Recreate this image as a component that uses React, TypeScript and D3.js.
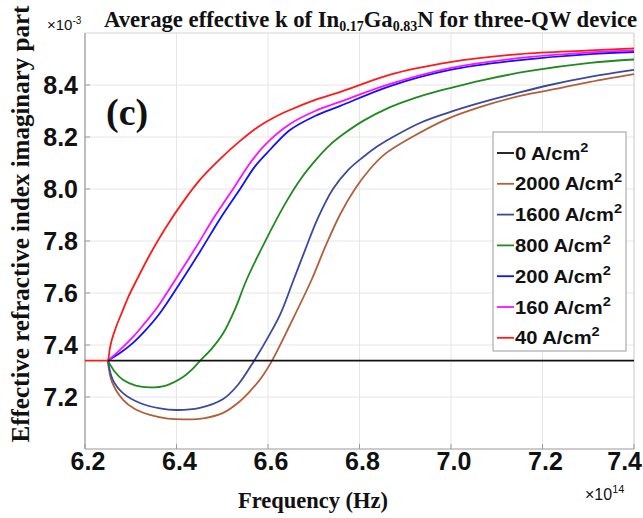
import React from "react";
import * as d3 from "d3";

const W = 643, H = 518;
const M = { left: 85, right: 634, top: 33, bottom: 449 };

const xTicks = [6.2, 6.4, 6.6, 6.8, 7.0, 7.2, 7.4];
const yTicks = [7.2, 7.4, 7.6, 7.8, 8.0, 8.2, 8.4];

const seriesNames = ["0 A/cm", "2000 A/cm", "1600 A/cm", "800 A/cm", "200 A/cm", "160 A/cm", "40 A/cm"];
const seriesColors = ["#111111", "#b0603a", "#3a4a9c", "#1f8a1f", "#1010ff", "#ff10ff", "#ff1a1a"];

const black0: [number, number][] = [[6.25, 7.34], [7.4, 7.34]];

const brown2000: [number, number][] = [
  [6.25, 7.34], [6.259, 7.258], [6.2837, 7.188], [6.309, 7.154], [6.342, 7.131], [6.381, 7.117],
  [6.422, 7.114], [6.462, 7.119], [6.502, 7.139], [6.534, 7.177], [6.561, 7.223], [6.585, 7.273],
  [6.608, 7.337], [6.648, 7.477], [6.695, 7.65], [6.725, 7.777], [6.757, 7.9], [6.79, 8.0],
  [6.823, 8.077], [6.856, 8.135], [6.915, 8.2], [6.991, 8.269], [7.063, 8.315], [7.151, 8.358],
  [7.238, 8.388], [7.304, 8.412], [7.4, 8.442],
];

const navy1600: [number, number][] = [
  [6.25, 7.34], [6.261, 7.265], [6.2837, 7.214], [6.32, 7.177], [6.364, 7.156], [6.4, 7.15],
  [6.451, 7.158], [6.502, 7.192], [6.534, 7.246], [6.568, 7.335], [6.604, 7.442], [6.628, 7.523],
  [6.655, 7.646], [6.681, 7.765], [6.709, 7.888], [6.742, 8.0], [6.775, 8.073], [6.808, 8.123],
  [6.84, 8.165], [6.873, 8.2], [6.932, 8.254], [6.991, 8.292], [7.063, 8.331], [7.136, 8.365],
  [7.216, 8.4], [7.304, 8.431], [7.4, 8.458],
];

const green800: [number, number][] = [
  [6.25, 7.34], [6.2656, 7.296], [6.2837, 7.265], [6.311, 7.244], [6.342, 7.237], [6.377, 7.244],
  [6.415, 7.278], [6.434, 7.306], [6.451, 7.338], [6.478, 7.388], [6.502, 7.445], [6.528, 7.538],
  [6.553, 7.65], [6.593, 7.796], [6.637, 7.942], [6.67, 8.035], [6.706, 8.115], [6.735, 8.169],
  [6.768, 8.215], [6.808, 8.262], [6.867, 8.315], [6.917, 8.348], [6.998, 8.388], [7.07, 8.419],
  [7.173, 8.454], [7.304, 8.485], [7.4, 8.498],
];

const blue200: [number, number][] = [
  [6.25, 7.34], [6.2765, 7.369], [6.305, 7.408], [6.331, 7.454], [6.364, 7.523], [6.412, 7.65],
  [6.451, 7.758], [6.495, 7.885], [6.539, 8.0], [6.572, 8.088], [6.604, 8.15], [6.648, 8.227],
  [6.703, 8.281], [6.757, 8.319], [6.867, 8.396], [6.998, 8.458], [7.151, 8.496], [7.304, 8.519],
  [7.4, 8.527],
];

const magenta160: [number, number][] = [
  [6.25, 7.34], [6.2765, 7.381], [6.305, 7.431], [6.331, 7.485], [6.357, 7.542], [6.397, 7.65],
  [6.44, 7.769], [6.484, 7.896], [6.528, 8.012], [6.561, 8.1], [6.593, 8.169], [6.648, 8.25],
  [6.703, 8.3], [6.757, 8.335], [6.867, 8.404], [6.998, 8.465], [7.151, 8.504], [7.304, 8.525],
  [7.4, 8.533],
];

const red40: [number, number][] = [
  [6.2, 7.34], [6.25, 7.34], [6.2546, 7.39], [6.2656, 7.458], [6.28, 7.522], [6.295, 7.586],
  [6.313, 7.65], [6.342, 7.748], [6.375, 7.847], [6.419, 7.962], [6.451, 8.035], [6.495, 8.115],
  [6.539, 8.185], [6.575, 8.235], [6.615, 8.277], [6.648, 8.304], [6.703, 8.343], [6.757, 8.373],
  [6.867, 8.44], [6.998, 8.488], [7.151, 8.519], [7.304, 8.533], [7.4, 8.541],
];

export default function App() {
  const x = d3.scaleLinear().domain([6.2, 7.4]).range([M.left, M.right]);
  const y = d3.scaleLinear().domain([7.0, 8.6]).range([M.bottom, M.top]);
  const smooth = d3
    .line<[number, number]>()
    .x((d) => x(d[0]))
    .y((d) => y(d[1]))
    .curve(d3.curveCatmullRom.alpha(0.5));
  const mono = d3
    .line<[number, number]>()
    .x((d) => x(d[0]))
    .y((d) => y(d[1]))
    .curve(d3.curveMonotoneX);

  const drawOrder: { data: [number, number][]; color: string; mono?: boolean }[] = [
    { data: brown2000, color: seriesColors[1] },
    { data: navy1600, color: seriesColors[2] },
    { data: green800, color: seriesColors[3] },
    { data: blue200, color: seriesColors[4] },
    { data: magenta160, color: seriesColors[5] },
    { data: red40, color: seriesColors[6], mono: true },
    { data: black0, color: seriesColors[0], mono: true },
  ];

  const sans = "'Liberation Sans', Arial, sans-serif";
  const serif = "'Liberation Serif', 'Times New Roman', serif";

  const legX = 493, legY = 132, legW = 133, legH = 219;
  const rowY0 = 153, rowStep = 30.8;

  return (
    <svg
      width={W}
      height={H}
      style={{ position: "absolute", left: 0, top: 0, background: "#fff" }}
    >
      <rect x={0} y={0} width={W} height={H} fill="#fff" />
      {/* grid */}
      {xTicks.map((t) => (
        <line key={"gx" + t} x1={x(t)} x2={x(t)} y1={M.top} y2={M.bottom} stroke="#e6e6e6" strokeWidth={1} />
      ))}
      {yTicks.map((t) => (
        <line key={"gy" + t} x1={M.left} x2={M.right} y1={y(t)} y2={y(t)} stroke="#e6e6e6" strokeWidth={1} />
      ))}
      {/* box */}
      <line x1={M.left} x2={M.right} y1={M.top} y2={M.top} stroke="#d4d4d4" strokeWidth={1} />
      <line x1={M.right} x2={M.right} y1={M.top} y2={M.bottom} stroke="#d4d4d4" strokeWidth={1} />
      <line x1={M.left} x2={M.left} y1={M.top} y2={M.bottom} stroke="#9a9a9a" strokeWidth={1.2} />
      <line x1={M.left} x2={M.right} y1={M.bottom} y2={M.bottom} stroke="#9a9a9a" strokeWidth={1.2} />
      {xTicks.map((t) => (
        <line key={"tx" + t} x1={x(t)} x2={x(t)} y1={M.bottom} y2={M.bottom - 5} stroke="#9a9a9a" />
      ))}
      {yTicks.map((t) => (
        <line key={"ty" + t} x1={M.left} x2={M.left + 5} y1={y(t)} y2={y(t)} stroke="#9a9a9a" />
      ))}

      {/* curves */}
      {drawOrder.map((s, i) => (
        <path
          key={i}
          d={(s.mono ? mono(s.data) : smooth(s.data)) || ""}
          fill="none"
          stroke={s.color}
          strokeWidth={1.8}
          strokeLinejoin="round"
        />
      ))}

      {/* tick labels */}
      {xTicks.map((t, i) => {
        const last = i === xTicks.length - 1;
        return (
          <text
            key={"lx" + t}
            x={last ? W - 1 : x(t) + 3}
            y={470}
            textAnchor={last ? "end" : "middle"}
            fontFamily={sans}
            fontWeight="bold"
            fontSize={25}
            fill="#111"
          >
            {t.toFixed(1)}
          </text>
        );
      })}
      {yTicks.map((t) => (
        <text key={"ly" + t} x={78} y={y(t) + 9} textAnchor="end" fontFamily={sans} fontWeight="bold" fontSize={25} fill="#111">
          {t.toFixed(1)}
        </text>
      ))}

      {/* exponents */}
      <text x={47} y={30} fontFamily={sans} fontSize={15} fill="#111">
        ×10<tspan dy={-6} fontSize={10}>-3</tspan>
      </text>
      <text x={585} y={500} fontFamily={sans} fontSize={16} fill="#111">
        ×10<tspan dy={-7} fontSize={11}>14</tspan>
      </text>

      {/* title */}
      <text x={104} y={27} fontFamily={serif} fontWeight="bold" fontSize={22.7} fill="#111">
        Average effective k of In<tspan fontSize={14} dy={4}>0.17</tspan>
        <tspan dy={-4}>Ga</tspan>
        <tspan fontSize={14} dy={4}>0.83</tspan>
        <tspan dy={-4}>N for three-QW device</tspan>
      </text>

      {/* axis labels */}
      <text x={313} y={508} textAnchor="middle" fontFamily={serif} fontWeight="bold" fontSize={22.5} fill="#111">
        Frequency (Hz)
      </text>
      <text
        transform="translate(29,224) rotate(-90)"
        textAnchor="middle"
        fontFamily={serif}
        fontWeight="bold"
        fontSize={25}
        fill="#111"
      >
        Effective refractive index imaginary part
      </text>

      {/* panel label */}
      <text x={106} y={125} fontFamily={serif} fontWeight="bold" fontSize={38} fill="#111">
        (c)
      </text>

      {/* legend */}
      <rect x={legX} y={legY} width={legW} height={legH} fill="#fff" stroke="#9a9a9a" strokeWidth={1} />
      {seriesNames.map((name, i) => {
        const cy = rowY0 + i * rowStep;
        return (
          <g key={name}>
            <line x1={497} x2={514} y1={cy} y2={cy} stroke={seriesColors[i]} strokeWidth={1.8} />
            <g transform={`translate(515,${cy + 6.5}) scale(1.12,1)`}>
              <text x={0} y={0} fontFamily={sans} fontWeight="bold" fontSize={18} fill="#111">
                {name}
                <tspan dy={-8} fontSize={13}>2</tspan>
              </text>
            </g>
          </g>
        );
      })}
    </svg>
  );
}
